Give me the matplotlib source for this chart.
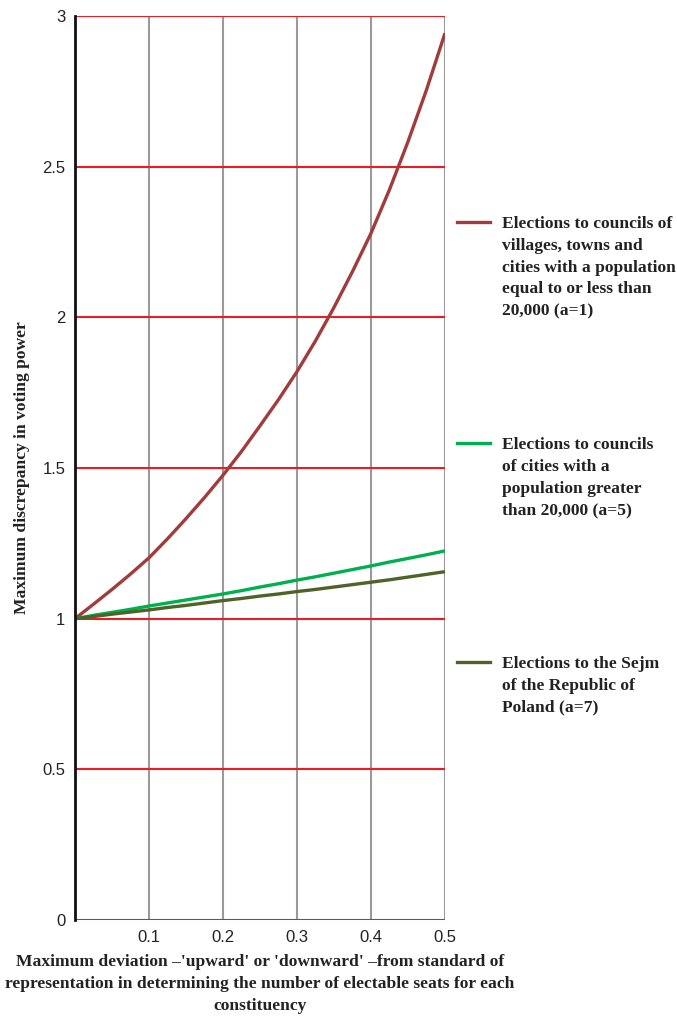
import matplotlib.pyplot as plt
from matplotlib.lines import Line2D

# values
x = [0.0, 0.025, 0.05, 0.075, 0.1, 0.125, 0.15, 0.175, 0.2, 0.225, 0.25,
     0.275, 0.3, 0.325, 0.35, 0.375, 0.4, 0.425, 0.45, 0.475, 0.5]
a1 = [1.0, 1.048, 1.097, 1.148, 1.202, 1.265, 1.332, 1.402, 1.476, 1.555, 1.64,
      1.727, 1.82, 1.922, 2.033, 2.152, 2.279, 2.424, 2.583, 2.755, 2.943]
a5 = [1.0, 1.011, 1.021, 1.031, 1.042, 1.052, 1.062, 1.072, 1.082, 1.093, 1.105,
      1.116, 1.128, 1.139, 1.151, 1.163, 1.175, 1.188, 1.2, 1.212, 1.225]
a7 = [1.0, 1.007, 1.015, 1.022, 1.029, 1.037, 1.044, 1.052, 1.06, 1.067, 1.075,
      1.082, 1.09, 1.097, 1.105, 1.113, 1.121, 1.129, 1.138, 1.147, 1.156]

labels = [
    "Elections to councils of\nvillages, towns and\ncities with a population\nequal to or less than\n20,000 (a=1)",
    "Elections to councils\nof cities with a\npopulation greater\nthan 20,000 (a=5)",
    "Elections to the Sejm\nof the Republic of\nPoland (a=7)",
]
colors = ["#A23B3B", "#00B050", "#4F6228"]
legend_y = [222, 443, 662]  # pixel rows of the legend entries

xticks = [0.1, 0.2, 0.3, 0.4, 0.5]
yticks = [0, 0.5, 1, 1.5, 2, 2.5, 3]
ytick_labels = ["0", "0.5", "1", "1.5", "2", "2.5", "3"]

W, H = 677, 1016
fig = plt.figure(figsize=(W / 100, H / 100), dpi=100)
ax = fig.add_axes([75 / W, (H - 920) / H, 370 / W, 904 / H])

for xv in xticks:
    ax.axvline(xv, color="#9A9A9C", lw=1.5, zorder=1)
for yv in yticks:
    ax.axhline(yv, color="#ED1C24", lw=1.5, zorder=1)

for ys, c in zip([a1, a5, a7], colors):
    ax.plot(x, ys, color=c, lw=2.4, zorder=3, solid_capstyle="butt")

ax.set_xlim(0, 0.5)
ax.set_ylim(0, 3)
ax.set_xticks(xticks)
ax.set_xticklabels([f"{v:g}" for v in xticks])
ax.set_yticks(yticks)
ax.set_yticklabels(ytick_labels)
ax.tick_params(length=0, labelsize=12, pad=7)
for lab in ax.get_xticklabels() + ax.get_yticklabels():
    lab.set_family("Liberation Sans")
    lab.set_color("#222222")
for s in ["top", "right", "bottom"]:
    ax.spines[s].set_visible(False)
ax.spines["left"].set_color("#111111")
ax.spines["left"].set_linewidth(2)
ax.spines["left"].set_zorder(4)

bold_serif = dict(family="Liberation Serif", weight="bold", size=12.6, color="#222222")
ax.set_xlabel("Maximum deviation \u2013'upward' or 'downward' \u2013from standard of\n"
              "representation in determining the number of electable seats for each\n"
              "constituency", labelpad=7, linespacing=1.47, **bold_serif)
ax.set_ylabel("Maximum discrepancy in voting power", labelpad=9, **bold_serif)

for lab, c, py in zip(labels, colors, legend_y):
    fy = (H - py) / H
    fig.add_artist(Line2D([457 / W, 490 / W], [fy, fy], color=c, lw=2.4,
                          transform=fig.transFigure))
    fig.text(502 / W, (H - py + 6) / H, lab, va="top", ha="left",
             linespacing=1.48, **bold_serif)

fig.savefig("out.png", dpi=100)
